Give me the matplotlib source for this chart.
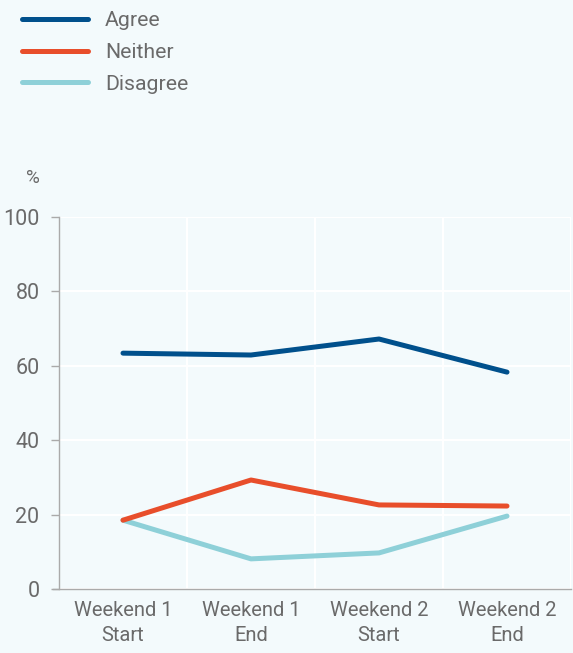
import matplotlib
matplotlib.use("Agg")
import matplotlib.pyplot as plt
from matplotlib.lines import Line2D

categories = ["Weekend 1\nStart", "Weekend 1\nEnd", "Weekend 2\nStart", "Weekend 2\nEnd"]
agree = [63.4, 62.9, 67.2, 58.3]
neither = [18.5, 29.3, 22.6, 22.3]
disagree = [18.5, 8.1, 9.7, 19.6]
series = [("Agree", agree, "#00508c"), ("Neither", neither, "#e84e2b"), ("Disagree", disagree, "#8ed0d8")]
yticks = [0, 20, 40, 60, 80, 100]

bg = "#f3fafc"
txt = "#6a6a6a"
fs = 14.5
fw = 'normal'
plt.rcParams['font.family'] = ['Roboto', 'DejaVu Sans']

fig = plt.figure(figsize=(5.73, 6.53), dpi=100, facecolor=bg)
ax = fig.add_axes([59/573, 64/653, 512/573, 372/653], facecolor=bg)

x = list(range(len(categories)))
for name, vals, col in series[::-1]:
    ax.plot(x, vals, color=col, lw=3.6, solid_capstyle='round', solid_joinstyle='round', zorder=3)

ax.set_xlim(-0.5, 3.5)
ax.set_ylim(0, 100)
ax.set_yticks(yticks)
ax.set_yticklabels([str(v) for v in yticks], fontsize=15.5, color=txt, fontweight=fw)
ax.set_xticks(x)
ax.set_xticklabels(categories, fontsize=fs, color=txt, linespacing=1.35, fontweight=fw)
ax.set_xticks([0.5, 1.5, 2.5, 3.5], minor=True)
ax.tick_params(axis='x', which='both', length=0, pad=9)
ax.tick_params(axis='y', length=6, color="#aaaaaa", width=1, pad=8)
ax.grid(axis='y', color='white', lw=1.5, zorder=0)
ax.grid(axis='x', which='minor', color='white', lw=1.5, zorder=0)
ax.grid(axis='x', which='major', visible=False)
for s in ['top', 'right']:
    ax.spines[s].set_visible(False)
for s in ['left', 'bottom']:
    ax.spines[s].set_color("#aaaaaa")
    ax.spines[s].set_linewidth(1)
ax.spines['bottom'].set_bounds(-0.5 - 6/128, 3.5)

fig.text(33/573, 1 - 178/653, "%", fontsize=13.5, color=txt, ha='center', va='center', fontweight=fw)

lfs = 15.3
handles = [Line2D([0], [0], color=c, lw=3.6, solid_capstyle='round') for _, _, c in series]
leg = fig.legend(handles, [n for n, _, _ in series], loc='upper left', bbox_to_anchor=(22/573, 1 - 11/653),
                 frameon=False, fontsize=lfs, handlelength=3.1, handletextpad=0.8, labelspacing=0.61,
                 borderaxespad=0, borderpad=0)
for t in leg.get_texts():
    t.set_color(txt)
    t.set_fontweight(fw)

fig.savefig("out.png", dpi=100, facecolor=bg)
